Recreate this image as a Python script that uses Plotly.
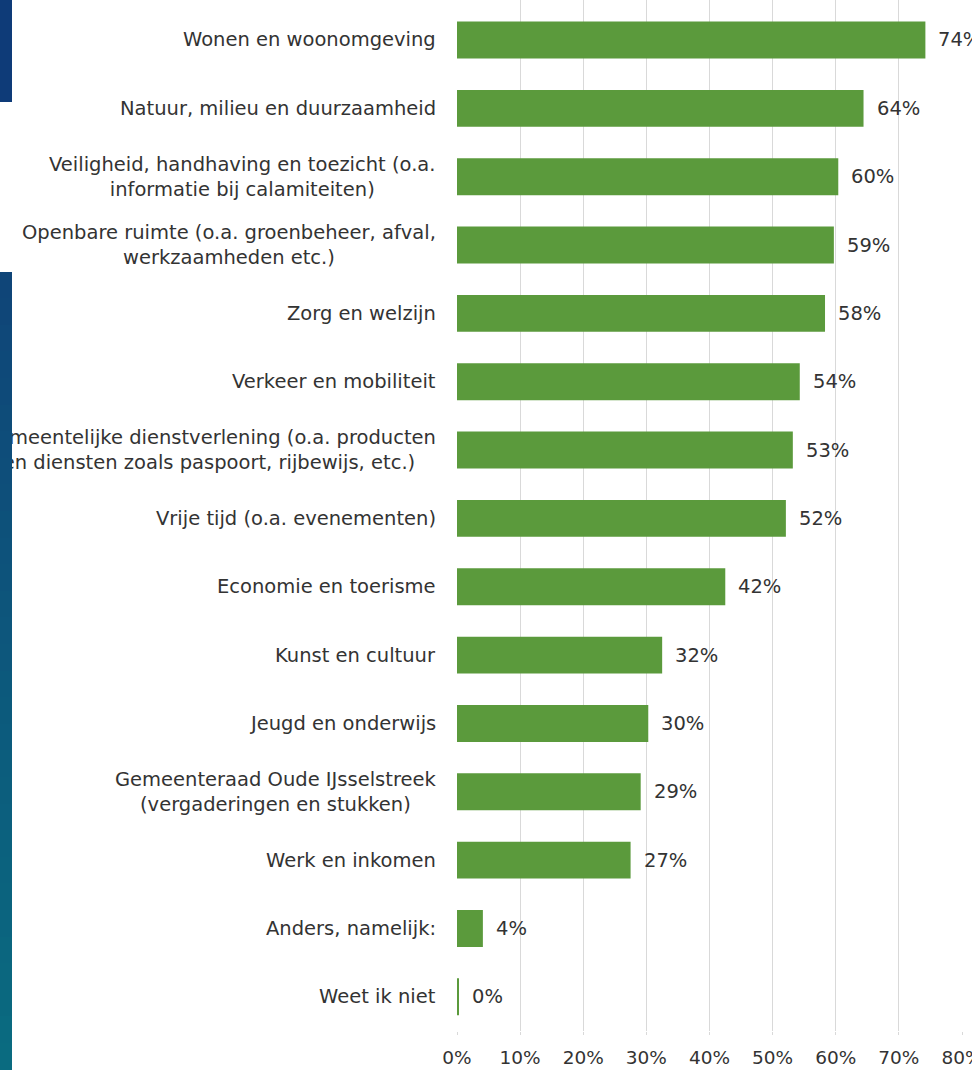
import plotly.graph_objects as go

# categories (top to bottom) and percentages
categories = [
    "Wonen en woonomgeving",
    "Natuur, milieu en duurzaamheid",
    "Veiligheid, handhaving en toezicht (o.a.<br>informatie bij calamiteiten)",
    "Openbare ruimte (o.a. groenbeheer, afval,<br>werkzaamheden etc.)",
    "Zorg en welzijn",
    "Verkeer en mobiliteit",
    "Gemeentelijke dienstverlening (o.a. producten<br>en diensten zoals paspoort, rijbewijs, etc.)",
    "Vrije tijd (o.a. evenementen)",
    "Economie en toerisme",
    "Kunst en cultuur",
    "Jeugd en onderwijs",
    "Gemeenteraad Oude IJsselstreek<br>(vergaderingen en stukken)",
    "Werk en inkomen",
    "Anders, namelijk:",
    "Weet ik niet",
]
values = [74.2, 64.4, 60.4, 59.7, 58.3, 54.3, 53.2, 52.1, 42.5, 32.5, 30.3, 29.1, 27.5, 4.1, 0.3]
value_labels = ["74%", "64%", "60%", "59%", "58%", "54%", "53%", "52%", "42%",
                "32%", "30%", "29%", "27%", "4%", "0%"]
tick_vals = [0, 10, 20, 30, 40, 50, 60, 70, 80]
tick_text = ["0%", "10%", "20%", "30%", "40%", "50%", "60%", "70%", "80%"]

W, H = 972, 1070
ML, MR, MT, MB = 457, 10, 0, 39
plot_w = W - ML - MR
plot_h = H - MT - MB

bar_color = "#5b9a3c"
text_color = "#333333"
font = "DejaVu Sans"

idx = list(range(len(categories)))

fig = go.Figure()
fig.add_trace(go.Bar(
    x=values, y=idx,
    orientation="h",
    marker=dict(color=bar_color, line=dict(width=0)),
    width=0.54,
    hoverinfo="skip",
))

annotations = []
# category labels, centred lines, right edge ~20px left of the axis
for i, cat in enumerate(categories):
    annotations.append(dict(
        x=0, xref="paper", y=i, yref="y",
        text=cat, showarrow=False,
        xanchor="right", yanchor="middle", align="center",
        xshift=-19,
        font=dict(family=font, size=19.5, color=text_color),
    ))
# value labels
for i, (v, lab) in enumerate(zip(values, value_labels)):
    annotations.append(dict(
        x=v, xref="x", y=i, yref="y",
        text=lab, showarrow=False,
        xanchor="left", yanchor="middle",
        xshift=11,
        font=dict(family=font, size=19.5, color=text_color),
    ))


# blue background strip at the left edge (drawn over the labels)
def strip(top_px, bottom_px, color):
    return dict(
        x=-ML / plot_w, xref="paper", xanchor="left",
        y=1 - (top_px - MT) / plot_h, yref="paper", yanchor="top",
        width=12, height=bottom_px - top_px + 1,
        text=" ", showarrow=False, bgcolor=color,
        borderpad=0, borderwidth=0, font=dict(size=1),
    )


annotations.append(strip(0, 101, "#0e3b78"))
c0 = (0x0f, 0x45, 0x78)
c1 = (0x0a, 0x6b, 0x80)
n = 30
top, bottom = 272, 1070
for k in range(n):
    t = k / (n - 1)
    col = "#%02x%02x%02x" % tuple(int(round(a + (b - a) * t)) for a, b in zip(c0, c1))
    y0 = top + (bottom - top) * k / n
    y1 = top + (bottom - top) * (k + 1) / n
    annotations.append(strip(int(y0), int(y1) + 1, col))

fig.update_layout(
    width=W, height=H,
    margin=dict(l=ML, r=MR, t=MT, b=MB),
    paper_bgcolor="white",
    plot_bgcolor="white",
    showlegend=False,
    annotations=annotations,
    xaxis=dict(
        range=[0, 80],
        tickvals=tick_vals,
        ticktext=tick_text,
        showgrid=True, gridcolor="#d9d9d9", gridwidth=1,
        zeroline=False, showline=False,
        ticks="outside", ticklen=3, tickcolor="#d9d9d9",
        ticklabelstandoff=7,
        ticklabeloverflow="allow",
        automargin=False,
        tickfont=dict(family=font, size=18.5, color=text_color),
    ),
    yaxis=dict(
        range=[14.5, -0.585],
        showticklabels=False,
        automargin=False,
        showgrid=False, zeroline=False, showline=False,
    ),
)

fig.write_html("out.html", config={"displayModeBar": False},
               post_script="document.body.style.margin='0';")
